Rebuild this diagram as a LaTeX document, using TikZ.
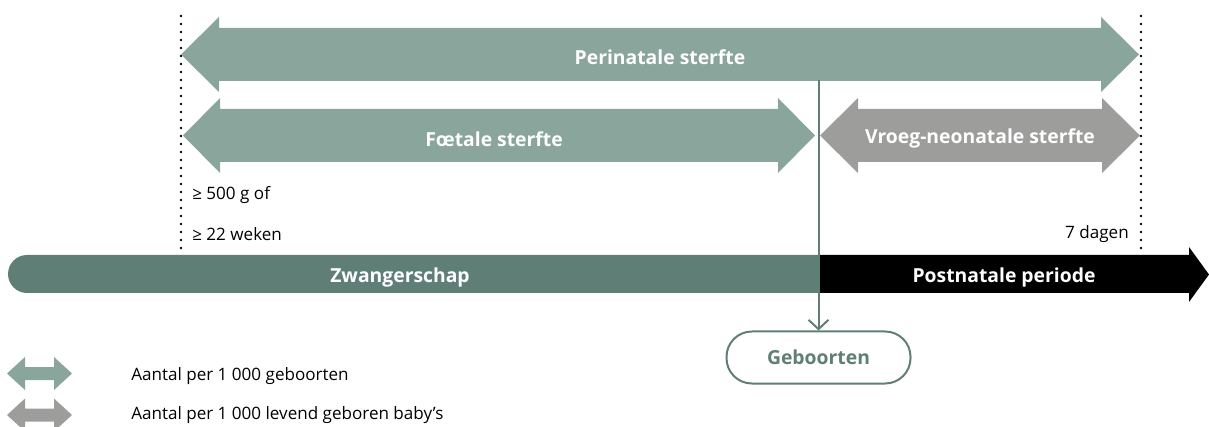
\documentclass[tikz,border=0pt]{standalone}
\usepackage{fontspec}
\setmainfont{Open Sans}
\usepackage{tikz}
\usetikzlibrary{arrows.meta}

\definecolor{perigreen}{HTML}{8AA59C}
\definecolor{neogray}{HTML}{9D9D9C}
\definecolor{darkgreen}{HTML}{5F7F76}

% horizontal double arrow: colour, left tip x, right tip x, centre y, head length, head half, shaft half
\newcommand{\hdblarrow}[7]{%
  \fill[#1] (#2,#4) -- (#2+#5,#4-#6) -- (#2+#5,#4-#7) -- (#3-#5,#4-#7) -- (#3-#5,#4-#6)
    -- (#3,#4) -- (#3-#5,#4+#6) -- (#3-#5,#4+#7) -- (#2+#5,#4+#7) -- (#2+#5,#4+#6) -- cycle;}

\tikzset{
  bandlabel/.style={text=white, font=\fontsize{14.5}{17}\selectfont\bfseries, inner sep=0.75pt},
  smalllabel/.style={font=\fontsize{12.8}{15}\selectfont, inner sep=0.75pt},
  dotline/.style={line width=2pt, dash pattern=on 0pt off 6pt, line cap=round},
}

\begin{document}
\begin{tikzpicture}[x=0.75pt,y=0.75pt,yscale=-1,xscale=1]
\useasboundingbox (0,0) rectangle (1209,427);

%Dotted limits
\draw[dotline] (181,16) -- (181,254);
\draw[dotline] (1141,16) -- (1141,254);

%Perinatale sterfte
\hdblarrow{perigreen}{181}{1139}{54.5}{38}{37.5}{26.5}
%Foetale sterfte
\hdblarrow{perigreen}{183}{815}{135.5}{37}{37.5}{26.5}
%Vroeg-neonatale sterfte
\hdblarrow{neogray}{820}{1140}{135.5}{38}{37.5}{26.5}

%Time bar
\fill[darkgreen] (820,255) -- (27,255) arc[start angle=-90, end angle=-270, radius=19] -- (820,293) -- cycle;
\fill[black] (820,255) -- (1189,255) -- (1189,247) -- (1209,274.5) -- (1189,302) -- (1189,293) -- (820,293) -- cycle;

%Legend
\hdblarrow{perigreen}{7}{72}{373.5}{18}{16.5}{6.5}
\hdblarrow{neogray}{7}{72}{415}{18}{16.5}{6.5}

% Text Node
\node[bandlabel] (peri) at (660,57) {Perinatale sterfte};
% Text Node
\node[bandlabel] (foet) at (494,139) {Fœtale sterfte};
% Text Node
\node[bandlabel] (neo) at (980,138) {Vroeg-neonatale sterfte};
% Text Node
\node[bandlabel] (zwanger) at (400,277) {Zwangerschap};
% Text Node
\node[bandlabel] (postnat) at (1004,277) {Postnatale periode};
% Text Node
\node[smalllabel, anchor=west] (gram) at (191,195) {≥ 500 g of};
% Text Node
\node[smalllabel, anchor=west] (weken) at (191,234) {≥ 22 weken};
% Text Node
\node[smalllabel, anchor=east] (dagen) at (1130,234) {7 dagen};
% Text Node
\node[smalllabel, anchor=west] (leg1) at (130,376) {Aantal per 1 000 geboorten};
% Text Node
\node[smalllabel, anchor=west] (leg2) at (130,415) {Aantal per 1 000 levend geboren baby’s};

%Birth node
\node[draw=darkgreen, line width=1.5pt, rounded corners=19pt, minimum width=138pt, minimum height=39pt,
  text=darkgreen, font=\fontsize{14.5}{17}\selectfont\bfseries] (geboorten) at (818.5,357.5) {Geboorten};
\coordinate (birthtop) at (818.5,80);
\draw[darkgreen, line width=1.5pt, -{Straight Barb[length=7pt,width=15pt,line width=1.5pt]}] (birthtop) -- (geboorten.north);

\end{tikzpicture}
\end{document}
